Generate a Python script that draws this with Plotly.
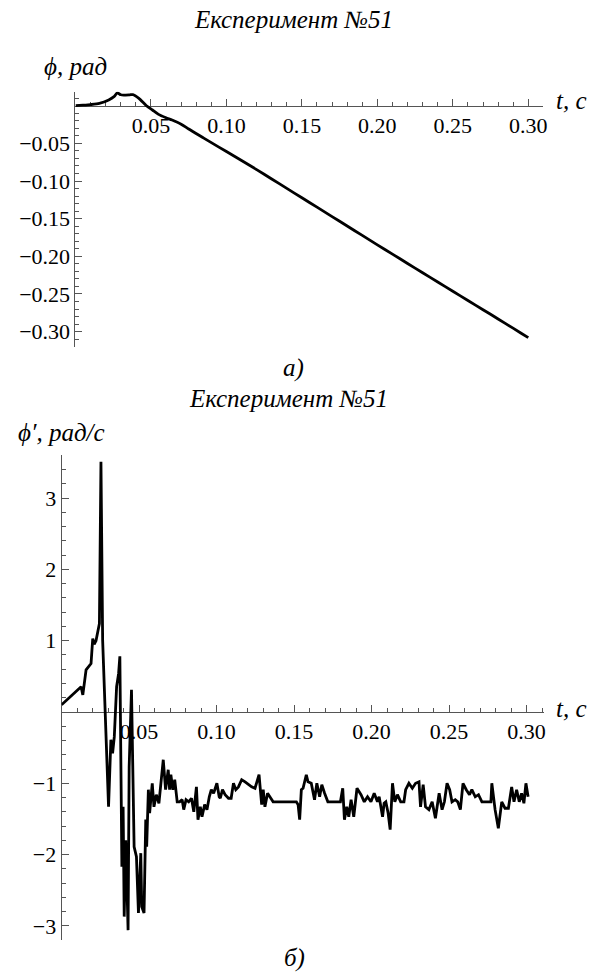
import plotly.graph_objects as go

# ---------------- data ----------------
# Top panel: angle phi (rad) vs time t (s)
phi_t = [0.0, 0.005, 0.010, 0.0158, 0.022, 0.0255, 0.0277, 0.030, 0.032, 0.036, 0.038,
         0.042, 0.047, 0.051, 0.055, 0.060, 0.064, 0.070, 0.075, 0.085, 0.095, 0.105, 0.115,
         0.125, 0.135, 0.145, 0.155, 0.165, 0.175, 0.185, 0.195, 0.205, 0.215, 0.225,
         0.235, 0.245, 0.255, 0.265, 0.275, 0.285, 0.295, 0.300]
phi_v = [0.0, 0.0007, 0.0015, 0.003, 0.0076, 0.012, 0.017, 0.0145, 0.014, 0.0145, 0.0148,
         0.0098, 0.0, -0.0057, -0.0115, -0.0160, -0.0190, -0.0245, -0.0310, -0.0430,
         -0.0550, -0.0668, -0.0788, -0.0910, -0.1035, -0.1160, -0.1285, -0.1410, -0.1535,
         -0.1660, -0.1785, -0.1910, -0.2033, -0.2157, -0.2280, -0.2403, -0.2525, -0.2648,
         -0.2770, -0.2893, -0.3018, -0.3080]

# Bottom panel: angular velocity phi' (rad/s) vs time t (s)
dphi_t = [0.0, 0.0126, 0.0137, 0.0158, 0.019, 0.0201, 0.021, 0.0222, 0.0244, 0.0254, 0.0265,
          0.0303, 0.0318, 0.0329, 0.0340, 0.0355, 0.0368, 0.0376, 0.0389, 0.0397, 0.0404,
          0.0414, 0.0429, 0.0436, 0.0451, 0.0468, 0.0483, 0.0496, 0.0511, 0.0517, 0.0532,
          0.0543, 0.0549, 0.0560, 0.0568, 0.0581,
          0.0585, 0.0596, 0.0611, 0.0628, 0.0656, 0.0671, 0.0688, 0.0697, 0.0705, 0.0718,
          0.0730, 0.0746, 0.0761, 0.0778, 0.0788, 0.0803, 0.0820, 0.0838, 0.0853, 0.0870,
          0.0880, 0.0895, 0.0906, 0.0923, 0.0938, 0.0953, 0.0966, 0.0981, 0.1002, 0.1017,
          0.1024, 0.1038, 0.1055, 0.1077, 0.1094, 0.1109, 0.1124, 0.1141, 0.1162, 0.1184,
          0.1205, 0.1226, 0.1248, 0.1274, 0.1291, 0.1301, 0.1312, 0.1329, 0.1350, 0.1365,
          0.1515, 0.1526, 0.1536, 0.1547, 0.1558, 0.1579, 0.1590, 0.1611, 0.1632, 0.1647,
          0.1665, 0.1679, 0.1697, 0.1718, 0.1799, 0.1814, 0.1825, 0.1840, 0.1853, 0.1868,
          0.1885, 0.1906, 0.1932, 0.1953, 0.1974, 0.1996, 0.2017, 0.2038,
          0.2049, 0.2071, 0.2081, 0.2092, 0.2107, 0.2120, 0.2135, 0.2150, 0.2167, 0.2188,
          0.2209, 0.2220, 0.2241, 0.2263, 0.2284, 0.2306, 0.2316, 0.2333, 0.2348, 0.2370,
          0.2391, 0.2412, 0.2436, 0.2455, 0.2470, 0.2487, 0.2504, 0.2519, 0.2540, 0.2556,
          0.2573, 0.2590, 0.2611, 0.2632, 0.2647, 0.2669, 0.2690, 0.2712, 0.2770, 0.2776,
          0.2797, 0.2818, 0.2840, 0.2861, 0.2883, 0.2904, 0.2919, 0.2936, 0.2953, 0.2968,
          0.2983, 0.2996, 0.3010]
dphi_v = [0.10, 0.355, 0.24, 0.59, 0.68, 1.03, 0.95, 1.0, 1.24, 3.51, 1.0,
          -1.33, -0.39, -0.58, -0.35, 0.355, 0.54, 0.78, -2.17, -1.33, -2.87,
          -1.80, -3.06, -0.77, 0.31, -1.89, -2.03, -2.82, -1.98, -2.73, -2.82,
          -1.51, -1.89, -1.09, -1.42, -1.02,
          -1.00, -1.33, -1.16, -1.28, -0.67, -1.09, -0.81, -1.09, -0.88, -1.09,
          -0.95, -1.26, -1.26, -1.23, -1.37, -1.23, -1.26, -1.21, -1.40, -1.05,
          -1.51, -1.33, -1.47, -1.30, -1.37, -1.19, -1.09, -1.14, -1.00, -1.19,
          -1.21, -1.09, -1.16, -1.21, -1.21, -1.00, -1.09, -1.05, -0.95, -0.98,
          -1.02, -1.05, -1.07, -0.88, -1.30, -1.09, -1.33, -1.14, -1.21, -1.26,
          -1.26, -1.30, -1.51, -1.09, -1.07, -0.88, -0.98, -1.00, -1.23, -1.00,
          -1.19, -1.02, -1.14, -1.26, -1.26, -1.07, -1.51, -1.33, -1.47, -1.23,
          -1.47, -1.07, -1.16, -1.26, -1.19, -1.26, -1.14, -1.26,
          -1.19, -1.47, -1.28, -1.26, -1.42, -1.65, -1.00, -1.26, -1.16, -1.26,
          -1.26, -1.09, -1.00, -1.07, -1.00, -0.98, -1.33, -1.02, -1.33, -1.37,
          -1.26, -1.49, -1.14, -1.37, -1.26, -1.00, -1.09, -1.26, -1.23, -1.26,
          -1.37, -1.00, -1.09, -1.16, -1.09, -1.19, -1.16, -1.26, -1.26, -1.00,
          -1.37, -1.63, -1.26, -1.35, -1.35, -1.05, -1.26, -1.09, -1.26, -1.14,
          -1.28, -1.00, -1.19]

x_major = [0.05, 0.10, 0.15, 0.20, 0.25, 0.30]
x_minor = [0.01, 0.02, 0.03, 0.04, 0.06, 0.07, 0.08, 0.09, 0.11, 0.12, 0.13, 0.14,
           0.16, 0.17, 0.18, 0.19, 0.21, 0.22, 0.23, 0.24, 0.26, 0.27, 0.28, 0.29, 0.31]
y1_major = [-0.30, -0.25, -0.20, -0.15, -0.10, -0.05]
y1_minor = [-0.31, -0.29, -0.28, -0.27, -0.26, -0.24, -0.23, -0.22, -0.21, -0.19, -0.18,
            -0.17, -0.16, -0.14, -0.13, -0.12, -0.11, -0.09, -0.08, -0.07, -0.06, -0.04,
            -0.03, -0.02, -0.01, 0.01]
y2_major = [-3, -2, -1, 1, 2, 3]
y2_minor = [-3.2, -2.8, -2.6, -2.4, -2.2, -1.8, -1.6, -1.4, -1.2, -0.8, -0.6, -0.4, -0.2,
            0.2, 0.4, 0.6, 0.8, 1.2, 1.4, 1.6, 1.8, 2.2, 2.4, 2.6, 2.8, 3.2, 3.4]

title_text = "Експеримент №51"

# ---------------- layout ----------------
W, H = 604, 974
FONT = "Times New Roman, Liberation Serif, DejaVu Serif, serif"
AX = "#555555"


def py(px):
    return 1 - px / H


def pxx(px):
    return px / W


# panel geometry (px)
x1_left, x1_right, x1_max = 76, 547, 0.31
y1_top, y1_bot, y1_min, y1_max = 91.7, 346.7, -0.32, 0.0186
x2_left, x2_right, x2_max = 62, 548, 0.3115
y2_top, y2_bot, y2_min, y2_max = 455, 940, -3.198, 3.604


def zero_pos(top, bot, lo, hi):
    frac = (0 - lo) / (hi - lo)
    return py(bot) + frac * (py(top) - py(bot))


tickfont = dict(family=FONT, size=22, color="black")

fig = go.Figure()
fig.add_trace(go.Scatter(x=phi_t, y=phi_v, mode="lines", line_shape="spline",
                         line=dict(color="black", width=2.8, smoothing=0.6),
                         xaxis="x", yaxis="y", showlegend=False))
fig.add_trace(go.Scatter(x=dphi_t, y=dphi_v, mode="lines",
                         line=dict(color="black", width=2.8), xaxis="x2", yaxis="y2",
                         showlegend=False))


def xaxis_cfg(left, right, xmax, pos):
    return dict(domain=[pxx(left), pxx(right)], range=[0, xmax], anchor="free", position=pos,
                side="bottom", showline=True, linecolor=AX, linewidth=1, showgrid=False,
                zeroline=False, ticks="inside", ticklen=7, tickwidth=1, tickcolor=AX,
                tickmode="array", tickvals=x_major, ticktext=[f"{v:.2f}" for v in x_major],
                minor=dict(ticks="inside", ticklen=4, tickwidth=1, tickcolor=AX,
                           tickmode="array", tickvals=x_minor),
                tickfont=tickfont, layer="below traces", fixedrange=True)


def yaxis_cfg(top, bot, lo, hi, anchor, major, minor, fmt):
    return dict(domain=[py(bot), py(top)], range=[lo, hi], anchor=anchor,
                showline=True, linecolor=AX, linewidth=1, showgrid=False, zeroline=False,
                ticks="inside", ticklen=7, tickwidth=1, tickcolor=AX,
                tickmode="array", tickvals=major, ticktext=[fmt(v) for v in major],
                minor=dict(ticks="inside", ticklen=4, tickwidth=1, tickcolor=AX,
                           tickmode="array", tickvals=minor),
                tickfont=tickfont, layer="below traces", fixedrange=True)


fig.update_layout(
    width=W, height=H, margin=dict(l=0, r=0, t=0, b=0),
    paper_bgcolor="white", plot_bgcolor="white",
    font=dict(family=FONT),
    xaxis=xaxis_cfg(x1_left, x1_right, x1_max, zero_pos(y1_top, y1_bot, y1_min, y1_max)),
    yaxis=yaxis_cfg(y1_top, y1_bot, y1_min, y1_max, "x", y1_major, y1_minor,
                    lambda v: f"\u2212{abs(v):.2f}"),
    xaxis2=xaxis_cfg(x2_left, x2_right, x2_max, zero_pos(y2_top, y2_bot, y2_min, y2_max)),
    yaxis2=yaxis_cfg(y2_top, y2_bot, y2_min, y2_max, "x2", y2_major, y2_minor,
                     lambda v: (f"\u2212{abs(v)}" if v < 0 else f"{v}")),
)


def ann(text, xpx, ypx, xanchor="center", size=25):
    fig.add_annotation(text=text, x=pxx(xpx), y=py(ypx), xref="paper", yref="paper",
                       xanchor=xanchor, yanchor="middle", showarrow=False,
                       font=dict(family=FONT, size=size, color="black"))


ann(f"<i>{title_text}</i>", 295, 20)
ann("<i>ϕ, рад</i>", 76, 66)
ann("<i>t, с</i>", 558, 101, xanchor="left")
ann("<i>а)</i>", 295, 368)
ann(f"<i>{title_text}</i>", 290, 398)
ann("<i>ϕ′, рад/с</i>", 62, 432)
ann("<i>t, с</i>", 558, 708, xanchor="left")
ann("<i>б)</i>", 296, 958)

fig.write_html("out.html")
